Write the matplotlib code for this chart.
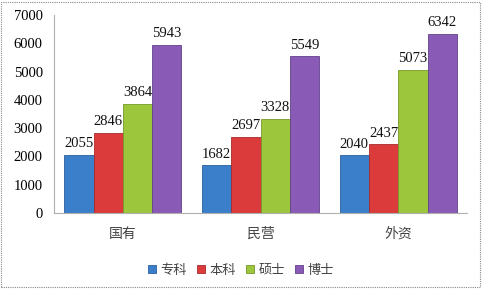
import numpy as np
import matplotlib
matplotlib.use("Agg")
from matplotlib import pyplot as plt
from matplotlib.patches import Rectangle

# chart data
categories = ['国有', '民营', '外资']
series = ['专科', '本科', '硕士', '博士']
zhuanke = [2055, 1682, 2040]
benke = [2846, 2697, 2437]
shuoshi = [3864, 3328, 5073]
boshi = [5943, 5549, 6342]
y_ticks = [0, 1000, 2000, 3000, 4000, 5000, 6000, 7000]

colors = ['#3b7fcb', '#dc3b3b', '#9cc63c', '#8a5bb6']
edges = ['#2b5f9e', '#a82a2a', '#76972a', '#63408a']

cjk = ['Noto Sans CJK SC', 'DejaVu Sans']
serif = 'Liberation Serif'

fig = plt.figure(figsize=(4.82, 2.89), dpi=100)
ax = fig.add_axes([0.112, 0.263, 0.857, 0.685])

x = np.arange(len(categories))
width = 0.213
all_vals = [zhuanke, benke, shuoshi, boshi]
for i, vals in enumerate(all_vals):
    offs = (i - 1.5) * width
    bars = ax.bar(x + offs, vals, width, color=colors[i], edgecolor=edges[i],
                  linewidth=0.6, label=series[i], zorder=2)
    for b, v in zip(bars, vals):
        ax.text(b.get_x() + b.get_width() / 2, v + 160, str(v), ha='center',
                va='bottom', fontsize=10.5, family=serif, color='#111111')

ax.set_xlim(-0.5, 2.5)
ax.set_ylim(0, 7000)
ax.set_yticks(y_ticks)
ax.set_yticklabels([str(t) for t in y_ticks], family=serif, fontsize=10.5)
ax.set_xticks(x)
ax.set_xticklabels(categories, family=cjk, fontsize=10, color='#444444',
                   fontweight='light')
ax.tick_params(axis='both', length=0, pad=8)
ax.tick_params(axis='x', pad=10)
for s in ['top', 'right']:
    ax.spines[s].set_visible(False)
for s in ['left', 'bottom']:
    ax.spines[s].set_color('#b0b0b0')
    ax.spines[s].set_linewidth(0.8)

leg = fig.legend(loc='center', bbox_to_anchor=(0.5, 0.065), ncol=4, frameon=False,
                 prop={'family': cjk, 'size': 9.5, 'weight': 'light'},
                 handlelength=0.6, handleheight=0.6,
                 handletextpad=0.3, columnspacing=0.8)
for t in leg.get_texts():
    t.set_color('#444444')

fig.patches.append(Rectangle((0.003, 0.006), 0.992, 0.988, transform=fig.transFigure,
                             fill=False, edgecolor='#888888', linewidth=0.8,
                             linestyle=(0, (1, 1))))

plt.savefig('out.png', dpi=100)
